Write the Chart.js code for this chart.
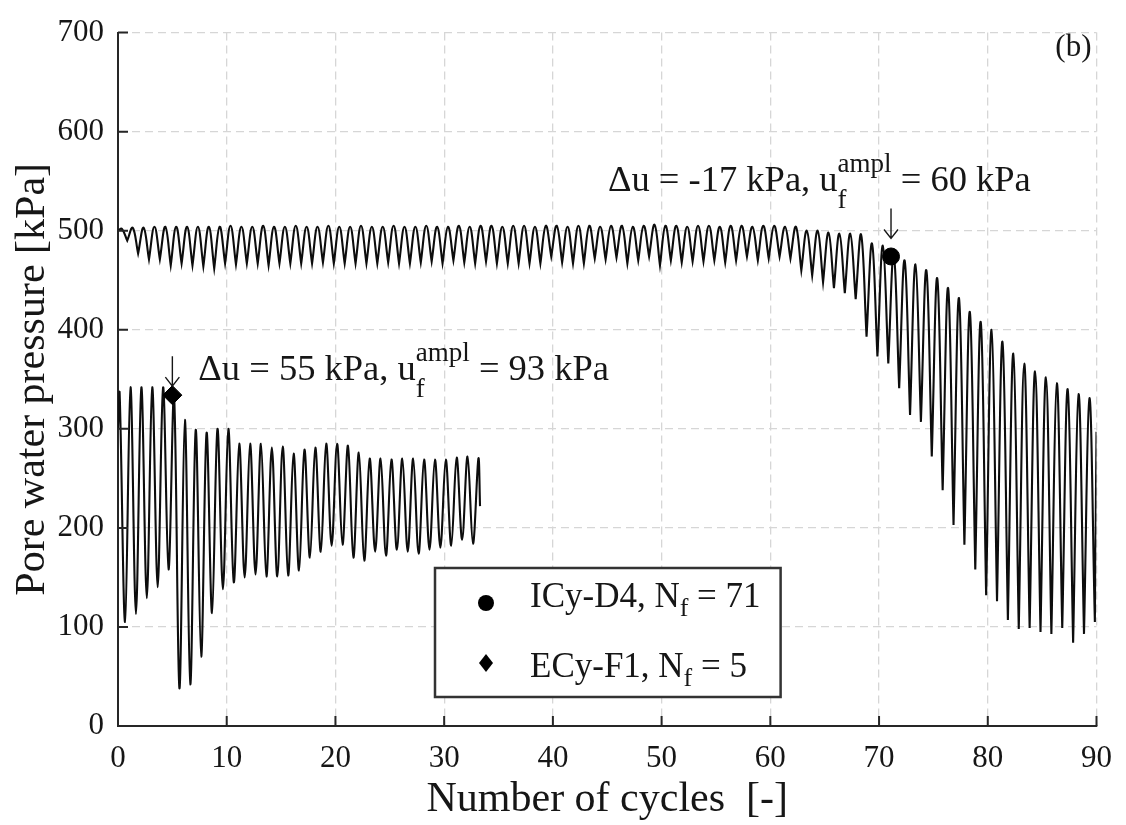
<!DOCTYPE html>
<html><head><meta charset="utf-8">
<script src="https://cdn.jsdelivr.net/npm/chart.js@4.4.1/dist/chart.umd.min.js"></script>
<style>html,body{margin:0;padding:0;background:#fff}#wrap{width:1126px;height:825px;position:relative}</style>
</head><body><div id="wrap"><canvas id="c" width="1126" height="825"></canvas></div>
<script>
const FONT = "'Liberation Serif','Times New Roman',serif";

// Tick labels
const xTickValues = [0, 10, 20, 30, 40, 50, 60, 70, 80, 90];
const yTickValues = [0, 100, 200, 300, 400, 500, 600, 700];

// ICy-D4: pore water pressure per cycle (peak and trough of each cycle), kPa
const icyStart = 500;
const icyEnd = 297;
const icyPeaks = [
  502,503,503,504,504,504,504,504,504,504,
  505,504,504,505,504,504,505,504,504,505,
  504,504,505,504,504,505,504,504,505,504,
  504,505,504,505,505,504,505,505,504,505,
  505,504,505,505,504,505,505,504,505,506,
  505,505,504,505,505,504,505,505,504,505,
  505,504,504,500,500,498,497,497,496,487,
  485,476,470,466,460,452,442,432,418,408,
  400,388,376,366,358,352,346,340,335,331
];
const icyTroughs = [
  490,477,471,471,465,467,465,464,462,467,
  466,467,467,465,467,467,467,467,468,467,
  467,467,467,467,468,467,467,468,469,467,
  470,468,467,469,467,467,467,467,467,474,
  468,467,467,472,471,473,467,470,474,465,
  470,468,469,469,470,468,470,474,470,472,
  474,472,460,455,448,442,437,431,393,373,
  366,341,314,307,272,238,203,183,158,132,
  126,107,98,99,95,93,99,84,93,105
];

// ECy-F1: pore water pressure per cycle (peak and trough), kPa
const ecyStart = 300;
const ecyEnd = 222;
const ecyEndCycle = 33.3;
const ecyPeaks = [
  336,342,342,342,342,334,309,299,296,300,
  300,285,285,285,281,282,275,279,281,285,
  285,283,276,270,270,269,270,270,269,269,
  269,271,272,270
];
const ecyTroughs = [
  105,113,129,140,158,38,42,70,114,138,
  145,150,153,151,151,152,157,170,176,182,
  183,170,167,176,172,178,176,174,178,180,
  182,188,184
];

// Failure points
const icyFailure = {x: 71.1, y: 474};
const ecyFailure = {x: 5, y: 334};

// cusp: repeat the trough vertex so the spline forms a sharp dip there
function buildSeries(start, peaks, troughs, end, endX, pOff, tOff, cusp) {
  const pts = [{x: 0, y: start}];
  for (let i = 0; i < peaks.length; i++) {
    pts.push({x: i + pOff, y: peaks[i]});
    if (i < troughs.length) {
      const p = {x: i + tOff, y: troughs[i]};
      pts.push(p);
      if (cusp) pts.push({x: p.x, y: p.y});
    }
  }
  pts.push({x: endX, y: end});
  return pts;
}

const TXT = '#161616';

function drawRich(ctx, x, y, parts) {
  let cx = x;
  ctx.textBaseline = 'alphabetic';
  ctx.textAlign = 'left';
  for (const p of parts) {
    if (p.stack) {
      let w = 0;
      for (const s of p.stack) {
        ctx.font = s.size + 'px ' + FONT;
        ctx.fillText(s.t, cx, y + s.dy);
        w = Math.max(w, ctx.measureText(s.t).width);
      }
      cx += w;
    } else {
      ctx.font = p.size + 'px ' + FONT;
      ctx.fillText(p.t, cx, y + (p.dy || 0));
      cx += ctx.measureText(p.t).width;
    }
  }
  return cx;
}

function drawArrow(ctx, x, y1, y2) {
  ctx.save();
  ctx.strokeStyle = TXT; ctx.lineWidth = 1.4;
  ctx.beginPath();
  ctx.moveTo(x, y1); ctx.lineTo(x, y2);
  ctx.moveTo(x - 7, y2 - 9); ctx.lineTo(x, y2); ctx.lineTo(x + 7, y2 - 9);
  ctx.stroke();
  ctx.restore();
}

const extras = {
  id: 'extras',
  afterDraw(chart) {
    const {ctx, chartArea: a, scales: {x, y}} = chart;
    ctx.save();
    // inward ticks
    ctx.strokeStyle = '#262626'; ctx.lineWidth = 2;
    ctx.beginPath();
    for (const v of yTickValues) { const py = y.getPixelForValue(v); ctx.moveTo(a.left, py); ctx.lineTo(a.left + 10, py); }
    for (const v of xTickValues) { const px = x.getPixelForValue(v); ctx.moveTo(px, a.bottom); ctx.lineTo(px, a.bottom - 10); }
    ctx.stroke();

    ctx.fillStyle = TXT;
    // panel label
    ctx.font = '31px ' + FONT; ctx.textAlign = 'right'; ctx.textBaseline = 'alphabetic';
    ctx.fillText('(b)', a.right - 5, 56);

    // annotation ECy-F1
    const ex = x.getPixelForValue(ecyFailure.x), ey = y.getPixelForValue(ecyFailure.y);
    drawArrow(ctx, ex, ey - 39, ey - 9);
    drawRich(ctx, ex + 26, ey - 15, [
      {t: '\u0394u = 55 kPa, u', size: 36.5},
      {stack: [{t: 'f', size: 27, dy: 17}, {t: 'ampl', size: 27, dy: -19}]},
      {t: ' = 93 kPa', size: 36.5}
    ]);
    // annotation ICy-D4
    const ix = x.getPixelForValue(icyFailure.x), iy = y.getPixelForValue(icyFailure.y);
    drawArrow(ctx, ix, iy - 48, iy - 18);
    drawRich(ctx, ix - 283, iy - 65, [
      {t: '\u0394u = -17 kPa, u', size: 36.5},
      {stack: [{t: 'f', size: 27, dy: 17}, {t: 'ampl', size: 27, dy: -19}]},
      {t: ' = 60 kPa', size: 36.5}
    ]);

    // legend
    const L = 435, T = 568, B = 697, tx = 530;
    ctx.font = '35px ' + FONT;
    const w1 = ctx.measureText('ICy-D4, N').width + ctx.measureText(' = 71').width;
    ctx.font = '26px ' + FONT;
    const wf = ctx.measureText('f').width;
    const R = tx + w1 + wf + 20;
    ctx.fillStyle = '#fff';
    ctx.fillRect(L, T, R - L, B - T);
    ctx.strokeStyle = '#333'; ctx.lineWidth = 2.5;
    ctx.strokeRect(L, T, R - L, B - T);
    ctx.fillStyle = '#000';
    ctx.beginPath(); ctx.arc(486, 603, 8, 0, Math.PI * 2); ctx.fill();
    ctx.beginPath(); ctx.moveTo(486, 654); ctx.lineTo(493, 663); ctx.lineTo(486, 672); ctx.lineTo(479, 663); ctx.closePath(); ctx.fill();
    ctx.fillStyle = TXT;
    drawRich(ctx, tx, 607, [{t: 'ICy-D4, N', size: 35}, {t: 'f', size: 26, dy: 9}, {t: ' = 71', size: 35}]);
    drawRich(ctx, tx, 677, [{t: 'ECy-F1, N', size: 35}, {t: 'f', size: 26, dy: 9}, {t: ' = 5', size: 35}]);
    ctx.restore();
  }
};

new Chart(document.getElementById('c').getContext('2d'), {
  type: 'scatter',
  data: {
    datasets: [
      {label: 'ICy-D4 failure', data: [icyFailure], pointStyle: 'circle', pointRadius: 8.5, backgroundColor: '#000', borderColor: '#000', order: 0},
      {label: 'ECy-F1 failure', data: [ecyFailure], pointStyle: 'rectRot', pointRadius: 9.5, backgroundColor: '#000', borderColor: '#000', order: 0},
      {label: 'ICy-D4', data: buildSeries(icyStart, icyPeaks, icyTroughs, icyEnd, 90, 0.35, 0.85, true), showLine: true, borderColor: '#0d0d0d', borderWidth: 2.1, pointRadius: 0, tension: 0.4, order: 2},
      {label: 'ECy-F1', data: buildSeries(ecyStart, ecyPeaks, ecyTroughs, ecyEnd, ecyEndCycle, 0.15, 0.65, false), showLine: true, borderColor: '#0d0d0d', borderWidth: 2.1, pointRadius: 0, tension: 0.35, order: 2}
    ]
  },
  options: {
    responsive: false,
    animation: false,
    layout: {padding: {top: 20, right: 23, left: 0, bottom: 0}},
    plugins: {legend: {display: false}, tooltip: {enabled: false}},
    scales: {
      x: {
        type: 'linear', min: 0, max: 90,
        afterBuildTicks: s => { s.ticks = xTickValues.map(v => ({value: v})); },
        afterFit: s => { s.height = 99; },
        grid: {color: '#d6d6d6', lineWidth: 1.3, drawTicks: false},
        border: {display: true, color: '#262626', width: 2, dash: [8, 5]},
        ticks: {font: {family: FONT, size: 31}, color: TXT, padding: 14, maxRotation: 0},
        title: {display: true, text: 'Number of cycles  [-]', font: {family: FONT, size: 42}, color: TXT, padding: {top: 0, bottom: 0}}
      },
      y: {
        type: 'linear', min: 0, max: 700,
        afterBuildTicks: s => { s.ticks = yTickValues.map(v => ({value: v})); },
        afterFit: s => { s.width = 118; },
        grid: {color: '#d6d6d6', lineWidth: 1.3, drawTicks: false},
        border: {display: true, color: '#262626', width: 2, dash: [8, 5]},
        ticks: {font: {family: FONT, size: 31}, color: TXT, padding: 14},
        title: {display: true, text: 'Pore water pressure [kPa]', font: {family: FONT, size: 42}, color: TXT, padding: {top: 8, bottom: 0}}
      }
    }
  },
  plugins: [extras]
});
</script></body></html>
